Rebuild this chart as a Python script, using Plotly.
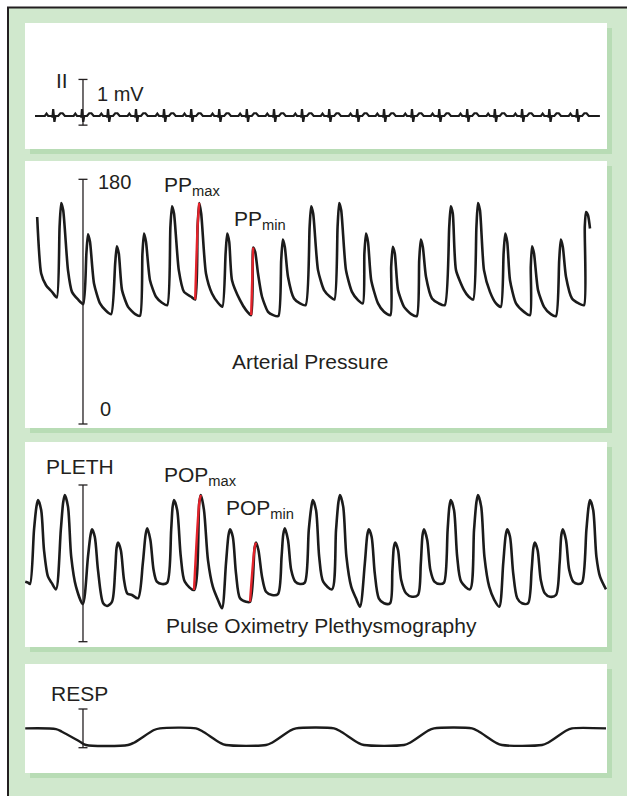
import plotly.graph_objects as go

# ---------------- data ----------------
# ECG lead II: R-wave times (s) and a single beat shape (offset from R in s, mV)
ecg_r_times = [0.507, 1.025, 1.493, 1.996, 2.500, 2.989, 3.493, 3.989, 4.478, 4.982,
               5.471, 5.975, 6.457, 6.960, 7.450, 7.953, 8.450, 8.940, 9.430, 9.930]
ecg_beat_dt = [-0.18, -0.15, -0.12, -0.09, -0.03, -0.012, 0.0, 0.022, 0.04, 0.09, 0.13, 0.17, 0.21, 0.26]
ecg_beat_mv = [0.0, 0.0, 0.05, 0.0, 0.0, -0.02, 0.15, -0.13, 0.0, 0.0, 0.06, 0.06, 0.0, 0.0]
ecg_start_end = (0.18, 10.34)

# Arterial pressure (s, mmHg)
art_t = [0.219, 0.291, 0.378, 0.486, 0.572,
         0.622, 0.651, 0.687, 0.773, 0.845, 0.953, 1.047,
         1.104, 1.133, 1.169, 1.241, 1.349, 1.457, 1.550,
         1.622, 1.651, 1.687, 1.745, 1.853, 1.982, 2.068,
         2.112, 2.140, 2.176, 2.248, 2.356, 2.464, 2.558,
         2.615, 2.644, 2.680, 2.766, 2.860, 2.989, 3.061,
         3.104, 3.133, 3.169, 3.255, 3.363, 3.471, 3.550,
         3.608, 3.637, 3.673, 3.723, 3.867, 3.975, 4.068,
         4.104, 4.140, 4.191, 4.263, 4.371, 4.464, 4.558,
         4.608, 4.637, 4.673, 4.730, 4.838, 4.946, 5.047,
         5.119, 5.147, 5.183, 5.270, 5.378, 5.486, 5.565,
         5.622, 5.651, 5.687, 5.773, 5.881, 5.989, 6.076,
         6.104, 6.133, 6.169, 6.227, 6.349, 6.457, 6.572,
         6.586, 6.615, 6.651, 6.709, 6.817, 6.946, 7.047,
         7.090, 7.119, 7.155, 7.212, 7.320, 7.442, 7.550,
         7.630, 7.658, 7.694, 7.752, 7.896, 7.982, 8.061,
         8.119, 8.147, 8.183, 8.255, 8.363, 8.471, 8.558,
         8.608, 8.637, 8.673, 8.723, 8.831, 8.975, 9.083,
         9.097, 9.119, 9.155, 9.227, 9.335, 9.457, 9.550,
         9.608, 9.637, 9.673, 9.730, 9.838, 9.960, 10.054,
         10.068, 10.090, 10.126, 10.162]
art_mmhg = [152.3, 110.7, 102.1, 97.2, 93.1,
            145.0, 162.6, 157.2, 113.2, 97.2, 91.6, 88.2,
            125.4, 139.6, 134.0, 103.4, 88.7, 83.3, 80.8,
            118.1, 130.8, 125.4, 98.5, 86.2, 80.8, 79.6,
            125.4, 140.1, 134.0, 105.8, 93.6, 89.2, 87.4,
            145.0, 160.2, 154.8, 113.2, 97.2, 93.6, 91.6,
            145.0, 162.6, 154.8, 110.7, 96.0, 89.2, 86.2,
            125.4, 140.1, 134.0, 105.8, 91.1, 83.8, 80.1,
            129.8, 126.6, 110.7, 93.6, 82.5, 80.1, 79.4,
            120.5, 135.7, 130.3, 108.3, 92.3, 88.7, 87.4,
            145.0, 160.2, 154.8, 113.2, 98.5, 93.6, 91.6,
            145.0, 162.6, 157.2, 113.2, 97.2, 91.1, 88.7,
            125.4, 140.1, 134.0, 105.8, 88.7, 82.5, 80.1,
            115.6, 130.3, 125.4, 98.5, 86.2, 80.8, 79.4,
            120.5, 135.7, 130.3, 108.3, 92.3, 88.7, 87.4,
            145.0, 160.2, 154.8, 113.2, 98.5, 93.6, 91.6,
            145.0, 162.6, 157.2, 113.2, 97.2, 88.7, 86.2,
            125.4, 140.1, 134.0, 105.8, 88.7, 82.5, 80.1,
            115.6, 130.8, 125.4, 98.5, 86.2, 80.8, 79.4,
            120.5, 135.7, 130.3, 108.3, 92.3, 88.7, 87.4,
            145.0, 156.0, 153.6, 143.8]
pp_max_span = (3.061, 3.133)
pp_min_span = (4.068, 4.104)

# Pulse oximetry plethysmogram (s, % of scale bar)
pleth_t = [0.004, 0.054, 0.090,
           0.162, 0.205, 0.234, 0.291, 0.342, 0.414, 0.486, 0.558,
           0.644, 0.687, 0.716, 0.773, 0.831, 0.917, 1.040,
           1.133, 1.178, 1.205, 1.255, 1.313, 1.406, 1.478, 1.565,
           1.622, 1.648, 1.673, 1.723, 1.781, 1.838, 1.924, 2.032,
           2.119, 2.170, 2.198, 2.255, 2.313, 2.371, 2.464, 2.558,
           2.629, 2.655, 2.680, 2.737, 2.802, 2.874, 3.040,
           3.135, 3.162, 3.219, 3.291, 3.378, 3.471, 3.543,
           3.615, 3.660, 3.687, 3.737, 3.795, 3.867, 3.975, 4.047,
           4.130, 4.155, 4.198, 4.263, 4.335, 4.442, 4.550,
           4.615, 4.645, 4.673, 4.730, 4.788, 4.860, 4.946, 5.032,
           5.104, 5.150, 5.176, 5.234, 5.291, 5.363, 5.522,
           5.594, 5.637, 5.665, 5.723, 5.781, 5.867, 5.953, 6.025,
           6.112, 6.156, 6.183, 6.234, 6.291, 6.363, 6.457, 6.565,
           6.608, 6.633, 6.658, 6.709, 6.766, 6.853, 6.960, 7.068,
           7.119, 7.150, 7.176, 7.234, 7.291, 7.363, 7.464, 7.536,
           7.601, 7.632, 7.658, 7.716, 7.773, 7.845, 8.004,
           8.076, 8.119, 8.147, 8.205, 8.263, 8.349, 8.442, 8.529,
           8.601, 8.646, 8.673, 8.723, 8.781, 8.853, 8.939, 9.047,
           9.112, 9.144, 9.169, 9.219, 9.277, 9.349, 9.442, 9.550,
           9.615, 9.646, 9.673, 9.730, 9.788, 9.860, 9.946, 10.018,
           10.097, 10.136, 10.162, 10.219, 10.277, 10.342, 10.450]
pleth_v = [38.3, 37.7, 36.8,
           71.3, 86.0, 90.4, 84.0, 58.5, 41.5, 37.2, 33.4,
           71.3, 89.0, 93.6, 86.2, 54.3, 35.1, 24.0,
           54.3, 68.0, 71.7, 67.0, 45.7, 24.5, 22.8, 25.5,
           45.7, 60.0, 63.2, 58.5, 39.4, 30.9, 29.8, 27.7,
           50.0, 68.5, 72.3, 64.9, 45.7, 38.3, 36.8, 37.7,
           71.3, 86.0, 90.4, 84.0, 54.3, 38.3, 33.0,
           89.0, 93.6, 84.0, 52.1, 35.1, 26.6, 21.3,
           50.0, 68.0, 71.7, 67.0, 43.6, 27.7, 25.5, 25.5,
           60.0, 63.2, 58.5, 41.5, 31.9, 29.8, 30.4,
           54.3, 68.5, 72.3, 64.9, 45.7, 38.3, 36.8, 37.7,
           71.3, 86.0, 90.4, 84.0, 54.3, 38.3, 33.4,
           71.3, 89.0, 93.6, 86.2, 54.3, 35.1, 27.7, 22.3,
           50.0, 68.0, 71.7, 67.0, 43.6, 27.7, 24.5, 24.5,
           45.7, 60.0, 63.2, 58.5, 39.4, 30.9, 28.7, 29.8,
           50.0, 68.0, 71.7, 64.9, 45.7, 38.3, 36.8, 37.7,
           71.3, 86.0, 90.4, 84.0, 54.3, 38.3, 33.4,
           71.3, 89.0, 93.6, 86.2, 54.3, 35.1, 26.6, 22.3,
           50.0, 68.0, 71.7, 67.0, 43.6, 27.7, 24.5, 24.5,
           45.7, 60.0, 63.2, 58.5, 39.4, 30.9, 28.7, 29.8,
           50.0, 68.0, 71.7, 64.9, 45.7, 38.3, 36.8, 37.7,
           71.3, 86.0, 90.4, 84.0, 54.3, 41.5, 33.4]
pop_max_span = (3.040, 3.162)
pop_min_span = (4.047, 4.155)

# Respiration (s, % of scale bar)
resp_t = [0.004, 0.558, 0.665, 0.989, 1.097, 1.853, 1.960, 2.320, 2.428,
          3.075, 3.183, 3.507, 3.615, 4.335, 4.442, 4.766, 4.874,
          5.558, 5.665, 5.989, 6.097, 6.817, 6.924, 7.248, 7.356,
          8.040, 8.147, 8.471, 8.579, 9.299, 9.406, 9.730, 9.838, 10.450]
resp_v = [50, 48.2, 41.3, 15.5, 6.9, 6.9, 12.9, 45.7, 50,
          50, 43.1, 12.9, 6.9, 6.9, 12.9, 43.9, 50,
          50, 43.1, 12.9, 6.9, 6.9, 12.9, 43.9, 50,
          50, 43.1, 12.9, 6.9, 6.9, 12.9, 43.9, 50, 50]

# Calibration bars (low, high) in each trace's units, drawn at this time
scale_bar_time = 1.043
ecg_bar_mv = (-0.2, 0.8)
art_bar_mmhg = (0, 180)
pleth_bar = (0, 100)
resp_bar = (0, 100)

# ---------------- layout geometry (pixels) ----------------
W, H = 627, 796
PANEL_X0, PANEL_X1 = 25, 607
PX_PER_S = 55.6
SHADOW = 5
# top, bottom, pixel row of value 0, pixels per unit
PANELS = [
    (23, 149, 116.0, 45.7),     # ECG (mV)
    (161, 428, 424.0, 1.3594),  # arterial pressure (mmHg)
    (442, 647, 641.7, 1.567),   # pleth
    (664, 773, 747.7, 0.387),   # resp
]

INK = "#231f20"
TRACE = "#1b1b1b"
RED = "#e3232b"
GREEN_BG = "rgb(208,232,205)"
GREEN_SHADOW = "rgb(184,220,181)"
FONT = "Liberation Sans, Arial, Helvetica, sans-serif"


def fx(x):
    return x / W


def fy(y):
    return 1 - y / H


fig = go.Figure()

t_range = [0, (PANEL_X1 - PANEL_X0) / PX_PER_S]
for i, (top, bot, zero, k) in enumerate(PANELS, start=1):
    sfx = "" if i == 1 else str(i)
    fig.update_layout(**{
        f"xaxis{sfx}": dict(domain=[fx(PANEL_X0), fx(PANEL_X1)], range=t_range,
                            visible=False, anchor=f"y{sfx}", fixedrange=True),
        f"yaxis{sfx}": dict(domain=[fy(bot), fy(top)],
                            range=[(zero - bot) / k, (zero - top) / k],
                            visible=False, anchor=f"x{sfx}", fixedrange=True),
    })


def line_trace(x, y, axis, color=TRACE, width=2.6, shape="spline", smoothing=0.6):
    xa = "x" if axis == 1 else f"x{axis}"
    ya = "y" if axis == 1 else f"y{axis}"
    return go.Scatter(x=x, y=y, mode="lines", xaxis=xa, yaxis=ya,
                      line=dict(color=color, width=width, shape=shape,
                                smoothing=smoothing if shape == "spline" else None),
                      hoverinfo="skip", showlegend=False)


def span_points(t, v, span):
    pts = [(a, b) for a, b in zip(t, v) if span[0] - 1e-9 <= a <= span[1] + 1e-9]
    return [p[0] for p in pts], [p[1] for p in pts]


# ECG built from the beat shape at each R time
ecg_x, ecg_y = [ecg_start_end[0]], [0.0]
for r in ecg_r_times:
    for dt, mv in zip(ecg_beat_dt, ecg_beat_mv):
        ecg_x.append(r + dt)
        ecg_y.append(mv)
ecg_x.append(ecg_start_end[1])
ecg_y.append(0.0)
fig.add_trace(line_trace(ecg_x, ecg_y, 1, width=2.2, shape="linear"))

# arterial pressure with PPmax / PPmin upstrokes in red
fig.add_trace(line_trace(art_t, art_mmhg, 2, smoothing=0.6))
for span in (pp_max_span, pp_min_span):
    sx, sy = span_points(art_t, art_mmhg, span)
    fig.add_trace(line_trace(sx, sy, 2, color=RED, width=2.4, shape="spline", smoothing=0.6))

# plethysmogram with POPmax / POPmin upstrokes in red
fig.add_trace(line_trace(pleth_t, pleth_v, 3, smoothing=0.8))
for span in (pop_max_span, pop_min_span):
    sx, sy = span_points(pleth_t, pleth_v, span)
    fig.add_trace(line_trace(sx, sy, 3, color=RED, width=2.4, shape="spline", smoothing=0.8))

# respiration
fig.add_trace(line_trace(resp_t, resp_v, 4, width=2.4, smoothing=0.8))

# ---------------- background, frame and panels ----------------
shapes = [
    dict(type="rect", xref="paper", yref="paper", x0=fx(8), x1=1, y0=0, y1=fy(8),
         fillcolor=GREEN_BG, line=dict(width=0), layer="below"),
    dict(type="line", xref="paper", yref="paper", x0=fx(8), x1=fx(8), y0=0, y1=fy(7),
         line=dict(color=INK, width=2), layer="below"),
    dict(type="line", xref="paper", yref="paper", x0=fx(7), x1=1, y0=fy(7.5), y1=fy(7.5),
         line=dict(color=INK, width=2), layer="below"),
]
for top, bot, _, _ in PANELS:
    shapes.append(dict(type="rect", xref="paper", yref="paper",
                       x0=fx(PANEL_X0 + SHADOW), x1=fx(PANEL_X1 + SHADOW),
                       y0=fy(bot + SHADOW), y1=fy(top + SHADOW),
                       fillcolor=GREEN_SHADOW, line=dict(width=0), layer="below"))
    shapes.append(dict(type="rect", xref="paper", yref="paper",
                       x0=fx(PANEL_X0), x1=fx(PANEL_X1), y0=fy(bot), y1=fy(top),
                       fillcolor="white", line=dict(width=0), layer="below"))

# calibration bars
cap = 4.5 / PX_PER_S
for i, (lo, hi) in enumerate([ecg_bar_mv, art_bar_mmhg, pleth_bar, resp_bar], start=1):
    xr = "x" if i == 1 else f"x{i}"
    yr = "y" if i == 1 else f"y{i}"
    style = dict(color=INK, width=1.3)
    shapes.append(dict(type="line", xref=xr, yref=yr, x0=scale_bar_time, x1=scale_bar_time,
                       y0=lo, y1=hi, line=style))
    for v in (lo, hi):
        shapes.append(dict(type="line", xref=xr, yref=yr, x0=scale_bar_time - cap,
                           x1=scale_bar_time + cap, y0=v, y1=v, line=style))

fig.update_layout(shapes=shapes)

# ---------------- labels ----------------
# text, left edge (px), vertical centre (px), font size
labels = [
    ("II", 54, 80, 21),
    ("1 mV", 95, 94, 20),
    ("180", 96, 182, 20),
    ("0", 98, 408.5, 20),
    ("PP<sub>max</sub>", 162, 186, 21),
    ("PP<sub>min</sub>", 232, 219.5, 21),
    ("Arterial Pressure", 230, 361.5, 21),
    ("PLETH", 44, 466.5, 21),
    ("POP<sub>max</sub>", 162, 475.5, 21),
    ("POP<sub>min</sub>", 224, 509, 21),
    ("Pulse Oximetry Plethysmography", 164, 625, 21),
    ("RESP", 49, 693, 21),
]
annotations = []
for text, x, y, size in labels:
    annotations.append(dict(text=text, xref="paper", yref="paper", x=fx(x), y=fy(y),
                            xanchor="left", yanchor="middle", showarrow=False,
                            font=dict(family=FONT, size=size, color=INK)))
fig.update_layout(annotations=annotations)

fig.update_layout(width=W, height=H, margin=dict(l=0, r=0, t=0, b=0),
                  paper_bgcolor="white", plot_bgcolor="rgba(0,0,0,0)",
                  autosize=False)

fig.write_html("out.html", config={"displayModeBar": False, "staticPlot": True})
